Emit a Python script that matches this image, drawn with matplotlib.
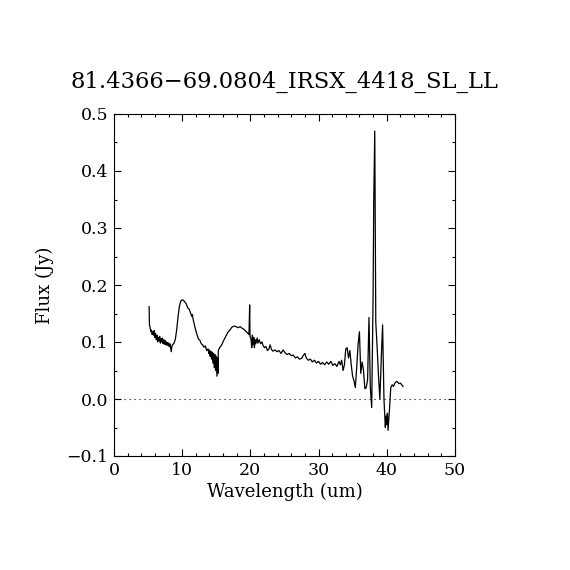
import matplotlib
matplotlib.use("Agg")
import matplotlib.pyplot as plt
from matplotlib.ticker import MultipleLocator

title = "81.4366\u221269.0804_IRSX_4418_SL_LL"

# wavelength (um) and flux (Jy)
wave = [5.15, 5.2, 5.3, 5.4, 5.5, 5.6, 5.7, 5.8, 5.9, 6.0, 6.1, 6.2, 6.3, 6.4, 6.5,
        6.6, 6.7, 6.8, 6.9, 7.0, 7.1, 7.2, 7.3, 7.4, 7.5, 7.6, 7.7, 7.8, 7.9, 8.0,
        8.1, 8.2, 8.3, 8.4, 8.5, 8.6, 8.8, 9.0, 9.2, 9.4, 9.6, 9.8, 10.0, 10.2, 10.4,
        10.6, 10.8, 11.0, 11.2, 11.4, 11.5, 11.6, 11.8, 12.0, 12.2, 12.4, 12.6, 12.8,
        13.0, 13.2, 13.4, 13.6, 13.8, 13.9, 14.0, 14.1, 14.2, 14.3, 14.4, 14.5, 14.6,
        14.7, 14.8, 14.9, 15.0, 15.1, 15.2, 15.25, 15.3, 15.5, 15.8, 16.1, 16.4, 16.7,
        17.0, 17.3, 17.6, 17.9, 18.2, 18.5, 18.8, 19.1, 19.4, 19.6, 19.8, 19.9, 19.95,
        20.1, 20.2, 20.3, 20.4, 20.5, 20.6, 20.7, 20.8, 21.0, 21.1, 21.3, 21.5, 21.7,
        21.9, 22.1, 22.3, 22.5, 22.7, 22.9, 23.1, 23.3, 23.6, 23.9, 24.2, 24.5, 24.8,
        25.1, 25.4, 25.7, 26.0, 26.3, 26.6, 26.9, 27.2, 27.5, 27.8, 28.0, 28.2, 28.5,
        28.8, 29.1, 29.4, 29.7, 30.0, 30.3, 30.6, 30.9, 31.2, 31.5, 31.8, 32.1, 32.4,
        32.7, 33.0, 33.2, 33.4, 33.6, 33.8, 34.0, 34.2, 34.4, 34.6, 34.8, 35.0, 35.2,
        35.4, 35.6, 35.8, 36.0, 36.2, 36.4, 36.6, 36.8, 37.0, 37.2, 37.4, 37.6, 37.8,
        38.0, 38.1, 38.25, 38.4, 38.6, 38.8, 39.0, 39.2, 39.4, 39.6, 39.8, 39.9, 40.0,
        40.1, 40.2, 40.4, 40.6, 40.8, 41.0, 41.2, 41.5, 41.8, 42.0, 42.4]
flux = [0.162, 0.13, 0.125, 0.118, 0.121, 0.113, 0.118, 0.112, 0.12, 0.108, 0.115,
        0.104, 0.112, 0.1, 0.108, 0.102, 0.11, 0.098, 0.106, 0.1, 0.107, 0.097, 0.104,
        0.096, 0.103, 0.095, 0.1, 0.094, 0.099, 0.095, 0.092, 0.097, 0.09, 0.083, 0.093,
        0.095, 0.098, 0.105, 0.122, 0.145, 0.163, 0.172, 0.174, 0.173, 0.17, 0.167, 0.16,
        0.158, 0.152, 0.145, 0.148, 0.14, 0.13, 0.12, 0.112, 0.105, 0.103, 0.097, 0.095,
        0.091, 0.093, 0.085, 0.088, 0.08, 0.086, 0.075, 0.084, 0.07, 0.082, 0.063, 0.08,
        0.055, 0.078, 0.05, 0.075, 0.04, 0.072, 0.045, 0.085, 0.09, 0.095, 0.103, 0.11,
        0.117, 0.121, 0.126, 0.128, 0.127, 0.125, 0.127, 0.124, 0.122, 0.118, 0.116,
        0.113, 0.165, 0.11, 0.105, 0.09, 0.112, 0.095, 0.108, 0.09, 0.104, 0.097, 0.107,
        0.098, 0.104, 0.097, 0.1, 0.093, 0.09, 0.092, 0.085, 0.087, 0.095, 0.087, 0.084,
        0.086, 0.083, 0.085, 0.08, 0.086, 0.081, 0.078, 0.08, 0.076, 0.077, 0.072, 0.074,
        0.07, 0.071, 0.077, 0.08, 0.072, 0.068, 0.07, 0.065, 0.068, 0.063, 0.066, 0.061,
        0.064, 0.06, 0.065, 0.061, 0.066, 0.059, 0.062, 0.057, 0.066, 0.06, 0.068, 0.05,
        0.06, 0.088, 0.09, 0.072, 0.085, 0.06, 0.04, 0.032, 0.02, 0.055, 0.095, 0.118,
        0.045, 0.065, 0.05, 0.018, 0.02, 0.034, 0.143, 0.02, -0.015, 0.175, 0.345, 0.47,
        0.135, 0.09, 0.04, 0.0, 0.07, 0.13, 0.0, -0.05, -0.03, -0.045, -0.025, -0.055,
        -0.02, 0.02, 0.025, 0.022, 0.028, 0.031, 0.027, 0.028, 0.022]

plt.rcParams['font.family'] = ['DejaVu Serif']

fig = plt.figure(figsize=(5.7, 5.7), dpi=100)
ax = fig.add_axes([0.2, 0.2, 0.598, 0.6])

ax.plot(wave, flux, color='black', lw=0.9)
ax.axhline(0.0, color='black', lw=0.8, linestyle=(0, (1, 3.5)))

ax.set_xlim(0, 50)
ax.set_ylim(-0.1, 0.5)
ax.xaxis.set_major_locator(MultipleLocator(10))
ax.xaxis.set_minor_locator(MultipleLocator(2))
ax.yaxis.set_major_locator(MultipleLocator(0.1))
ax.yaxis.set_minor_locator(MultipleLocator(0.05))
ax.yaxis.set_major_formatter(plt.FuncFormatter(lambda v, p: ("%.1f" % v).replace("-", "\u2212")))

ax.tick_params(which='both', direction='in', top=True, right=True, labelsize=12.5, width=0.8)
ax.tick_params(which='major', length=5, pad=4)
ax.tick_params(which='minor', length=2.5)
for s in ax.spines.values():
    s.set_linewidth(0.8)

ax.set_xlabel("Wavelength (um)", fontsize=13, labelpad=3)
ax.set_ylabel("Flux (Jy)", fontsize=13, labelpad=9)
ax.set_title(title, fontsize=16.3, pad=19)

fig.savefig("out.png", dpi=100)
